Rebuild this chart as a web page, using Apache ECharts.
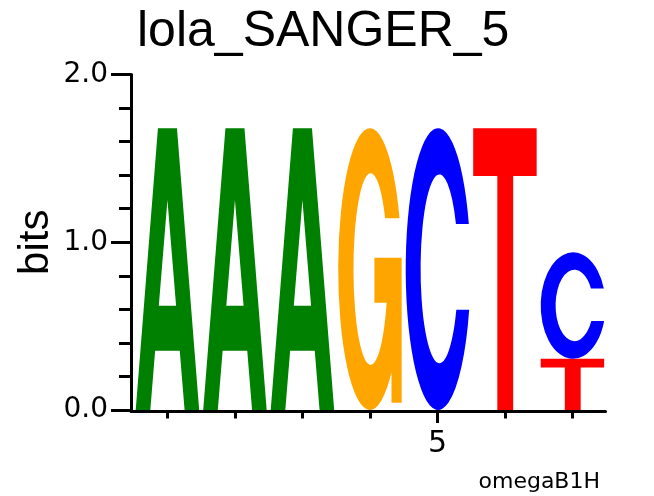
<!DOCTYPE html>
<html>
<head>
<meta charset="utf-8">
<script src="https://cdn.jsdelivr.net/npm/echarts@6/dist/echarts.min.js"></script>
<style>
html,body{margin:0;padding:0;background:#fff;}
#chart{width:654px;height:496px;}
</style>
</head>
<body>
<div id="chart"></div>
<script>
// ---- data ----
const positions = [1, 2, 3, 4, 5, 6, 7];
// letters in each column, bottom to top
const columnLetters = [['A'], ['A'], ['A'], ['G'], ['C'], ['T'], ['T', 'C']];
// heights (bits) matching columnLetters
const columnHeights = [[1.68], [1.68], [1.68], [1.68], [1.68], [1.68], [0.305, 0.635]];
const letterColors = { A: '#008000', C: '#0000ff', G: '#ffa500', T: '#ff0000' };
const xTickValues = [1, 2, 3, 4, 5, 6, 7];
const xLabelValues = [5];
const titleText = 'lola_SANGER_5';
const subText = 'omegaB1H';

// glyph outlines in a 100x100 box
const PATHS = {
  A: 'M0 100 L35 0 L65 0 L100 100 L77 100 L69.4 79 L30.6 79 L23 100 Z M50 25.5 L36.4 63 L63.6 63 Z',
  C: 'M97.4 34 A50 50 0 1 0 97.9 64.5 L78.1 64.5 A29 33.5 0 1 1 77.5 34 Z',
  G: 'M96.6 32 A50 50 0 1 0 84 86.7 L84 97.5 L100 97.5 L100 46 L57 46 L57 62 L76.3 62 A27 34 0 1 1 73.9 32 Z',
  T: 'M0 0 L100 0 L100 17 L63 17 L63 100 L38 100 L38 17 L0 17 Z'
};
const letterKeys = ['A', 'C', 'G', 'T'];

const data = [];
positions.forEach((p, i) => {
  let base = 0;
  columnLetters[i].forEach((l, j) => {
    const h = columnHeights[i][j];
    data.push([p, base, base + h, letterKeys.indexOf(l)]);
    base += h;
  });
});

const chart = echarts.init(document.getElementById('chart'));
const black = '#000';
chart.setOption({
  backgroundColor: '#fff',
  animation: false,
  title: [
    { text: titleText, left: 137, top: 7, padding: 0,
      textStyle: { fontFamily: 'Liberation Sans', fontWeight: 'normal', fontSize: 50, color: black } },
    { text: subText, right: 54, top: 471, padding: 0,
      textStyle: { fontFamily: 'DejaVu Sans', fontWeight: 'normal', fontSize: 22, color: black } }
  ],
  grid: { left: 131, right: 48.5, top: 74.5, bottom: 86, containLabel: false },
  xAxis: [
    {
      type: 'value', min: 0.46, max: 7.49, position: 'bottom', offset: 1.5,
      axisLine: { show: true, onZero: false, lineStyle: { color: black, width: 3 } },
      axisTick: { show: true, customValues: xTickValues, length: 7, lineStyle: { color: black, width: 3 } },
      axisLabel: { show: false },
      splitLine: { show: false }
    },
    {
      type: 'value', min: 0.46, max: 7.49, position: 'bottom', offset: 1.5,
      axisLine: { show: false },
      axisTick: { show: true, customValues: xLabelValues, length: 13, lineStyle: { color: black, width: 3 } },
      axisLabel: { show: true, customValues: xLabelValues, margin: 18, fontFamily: 'DejaVu Sans', fontSize: 30, color: black },
      splitLine: { show: false }
    }
  ],
  yAxis: {
    type: 'value', min: 0, max: 2, interval: 1,
    name: 'bits', nameLocation: 'middle', nameGap: 74, nameMoveOverlap: false,
    nameTextStyle: { fontFamily: 'Liberation Sans', fontSize: 42, color: black },
    axisLine: { show: true, lineStyle: { color: black, width: 3 } },
    axisTick: { show: true, length: 20, lineStyle: { color: black, width: 3 } },
    minorTick: { show: true, splitNumber: 5, length: 12, lineStyle: { color: black, width: 3 } },
    axisLabel: { margin: 23, fontFamily: 'DejaVu Sans', fontSize: 28, color: black,
      formatter: v => v.toFixed(1) },
    splitLine: { show: false },
    minorSplitLine: { show: false }
  },
  series: [{
    type: 'custom',
    xAxisIndex: 0,
    data: data,
    renderItem: function (params, api) {
      const x = api.value(0), y0 = api.value(1), y1 = api.value(2);
      const key = letterKeys[api.value(3)];
      const p0 = api.coord([x - 0.47, y1]);
      const p1 = api.coord([x + 0.47, y0]);
      return {
        type: 'path',
        shape: { pathData: PATHS[key], x: p0[0], y: p0[1], width: p1[0] - p0[0], height: p1[1] - p0[1], layout: 'cover' },
        style: { fill: letterColors[key], stroke: null }
      };
    }
  }]
});
</script>
</body>
</html>
